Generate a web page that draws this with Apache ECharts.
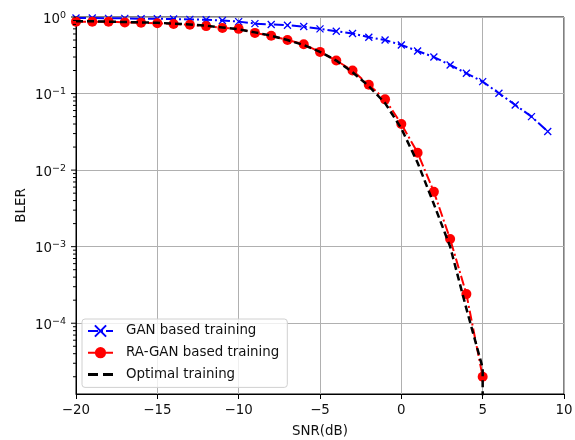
<!DOCTYPE html>
<html>
<head>
<meta charset="utf-8">
<script src="https://cdn.jsdelivr.net/npm/echarts@6/dist/echarts.min.js"></script>
<style>html,body{margin:0;padding:0;background:#fff;}#c{width:575px;height:440px;}</style>
</head>
<body>
<div id="c"></div>
<script>
// ---- data ----
const snrGAN = [-20,-19,-18,-17,-16,-15,-14,-13,-12,-11,-10,-9,-8,-7,-6,-5,-4,-3,-2,-1,0,1,2,3,4,5,6,7,8,9];
const blerGAN = [0.97,0.97,0.96,0.96,0.95,0.95,0.94,0.93,0.92,0.90,0.87,0.82,0.80,0.78,0.75,0.70,0.65,0.61,0.545,0.50,0.43,0.36,0.30,0.236,0.184,0.143,0.101,0.071,0.050,0.032];
const snrRA = [-20,-19,-18,-17,-16,-15,-14,-13,-12,-11,-10,-9,-8,-7,-6,-5,-4,-3,-2,-1,0,1,2,3,4,5];
const blerRA = [0.87,0.87,0.87,0.85,0.84,0.83,0.81,0.79,0.76,0.72,0.70,0.62,0.57,0.50,0.44,0.35,0.27,0.20,0.13,0.084,0.040,0.0169,0.0052,0.00126,0.00024,0.000020];
const snrOpt = [-20,-19,-18,-17,-16,-15,-14,-13,-12,-11,-10,-9,-8,-7,-6,-5,-4,-3,-2,-1,0,1,2,3,4,5,5];
const blerOpt = [0.88,0.88,0.87,0.86,0.85,0.84,0.82,0.80,0.77,0.73,0.69,0.63,0.57,0.50,0.43,0.35,0.27,0.19,0.125,0.075,0.035,0.0125,0.0036,0.0010,0.000155,0.000026,1e-9];
const seriesNames = ['GAN based training','RA-GAN based training','Optimal training'];
const xTicks = [-20,-15,-10,-5,0,5,10];
const yDecades = [-4,-3,-2,-1,0];
const xMin = -20, xMax = 10, yMin = 1.19e-5, yMax = 1;

// y tick marks (major + minor), placed through the axis scale
const yTickMarks = [];
for (let d = -5; d <= 0; d++) {
  for (let m = 1; m <= 9; m++) {
    const v = m * Math.pow(10, d);
    if (v >= yMin && v <= yMax) yTickMarks.push([xMin, v, m === 1 ? 5 : 3]);
  }
}
const pair = (xs, ys) => xs.map((x, i) => [x, ys[i]]);
const minus = s => String(s).replace('-', '\u2212');

const chart = echarts.init(document.getElementById('c'), null, {renderer: 'canvas'});
const FONT = 'DejaVu Sans';
const FS = 13.4;
const TXT = '#111';
chart.setOption({
  animation: false,
  backgroundColor: '#fff',
  textStyle: {fontFamily: FONT},
  grid: {left: 76, right: 11, top: 17, bottom: 46, outerBoundsMode: 'none', containLabel: false, show: true, borderColor: '#000', borderWidth: 1, backgroundColor: 'transparent'},
  xAxis: {
    type: 'value', min: xMin, max: xMax, interval: 5,
    name: 'SNR(dB)', nameLocation: 'middle', nameGap: 31, nameMoveOverlap: false,
    nameTextStyle: {fontFamily: FONT, fontSize: FS, color: TXT},
    axisLine: {show: true, onZero: false, lineStyle: {color: '#000', width: 1}},
    axisTick: {show: true, length: 5, lineStyle: {color: '#000'}},
    axisLabel: {margin: 10, fontFamily: FONT, fontSize: FS, color: TXT, formatter: v => xTicks.includes(v) ? minus(v) : ''},
    splitLine: {show: true, lineStyle: {color: '#b0b0b0', width: 1}}
  },
  yAxis: {
    type: 'log', logBase: 10, min: yMin, max: yMax,
    name: 'BLER', nameLocation: 'middle', nameGap: 48, nameMoveOverlap: false,
    nameTextStyle: {fontFamily: FONT, fontSize: FS, color: TXT},
    axisLine: {show: true, onZero: false, lineStyle: {color: '#000', width: 1}},
    axisTick: {show: false},
    axisLabel: {
      margin: 10, fontFamily: FONT, fontSize: FS, color: TXT,
      formatter: v => {
        const l = Math.log10(v), e = Math.round(l);
        if (Math.abs(l - e) > 1e-6 || !yDecades.includes(e)) return '';
        return '{b|10}{s|' + minus(e) + '}';
      },
      rich: {
        b: {fontFamily: FONT, fontSize: FS, color: TXT, lineHeight: 17.4, verticalAlign: 'bottom'},
        s: {fontFamily: FONT, fontSize: 9.5, color: TXT, lineHeight: 17.4, verticalAlign: 'top', padding: [2, 0, 0, 0]}
      }
    },
    splitLine: {show: true, lineStyle: {color: '#b0b0b0', width: 1}}
  },
  legend: {
    data: [
      {name: seriesNames[0]},
      {name: seriesNames[1]},
      {name: seriesNames[2], icon: 'path://M0,0h0.01v0.01zM0,5.5h10v3h-10zM15,5.5h10v3h-10zM24.99,13.99h0.01v0.01z', itemStyle: {color: '#000'}}
    ],
    orient: 'vertical', left: 82, top: 319,
    backgroundColor: 'rgba(255,255,255,0.8)', borderColor: '#d0d0d0', borderWidth: 1, borderRadius: 3,
    padding: [5, 8, 6, 5], itemGap: 7.7, itemWidth: 25, itemHeight: 14,
    textStyle: {fontFamily: FONT, fontSize: FS, lineHeight: 14, color: TXT, padding: [0, 0, 0, 8]}
  },
  series: [
    {
      name: seriesNames[0], type: 'line', data: pair(snrGAN, blerGAN),
      symbol: 'path://M0,0L10,10M10,0L0,10', symbolSize: 7, showSymbol: true,
      lineStyle: {color: '#0000ff', width: 2, type: [10, 3, 2, 3]},
      itemStyle: {color: '#0000ff', borderColor: '#0000ff', borderWidth: 1.3},
      z: 3
    },
    {
      name: seriesNames[1], type: 'line', data: pair(snrRA, blerRA),
      symbol: 'circle', symbolSize: 10, showSymbol: true,
      lineStyle: {color: '#ff0000', width: 2, type: [10, 3, 2, 3]},
      itemStyle: {color: '#ff0000', borderWidth: 0},
      z: 4
    },
    {
      name: seriesNames[2], type: 'line', data: pair(snrOpt, blerOpt),
      symbol: 'none', showSymbol: false, clip: true,
      lineStyle: {color: '#000000', width: 2.5, type: [7, 4]},
      itemStyle: {color: '#000000'},
      z: 5
    },
    {
      name: 'yticks', type: 'custom', silent: true, clip: false, z: 10,
      data: yTickMarks,
      renderItem: (params, api) => {
        const p = api.coord([api.value(0), api.value(1)]);
        const len = api.value(2);
        return {type: 'line', shape: {x1: p[0] - len, y1: p[1], x2: p[0], y2: p[1]}, style: {stroke: '#000', lineWidth: 1}};
      }
    }
  ]
});
</script>
</body>
</html>
